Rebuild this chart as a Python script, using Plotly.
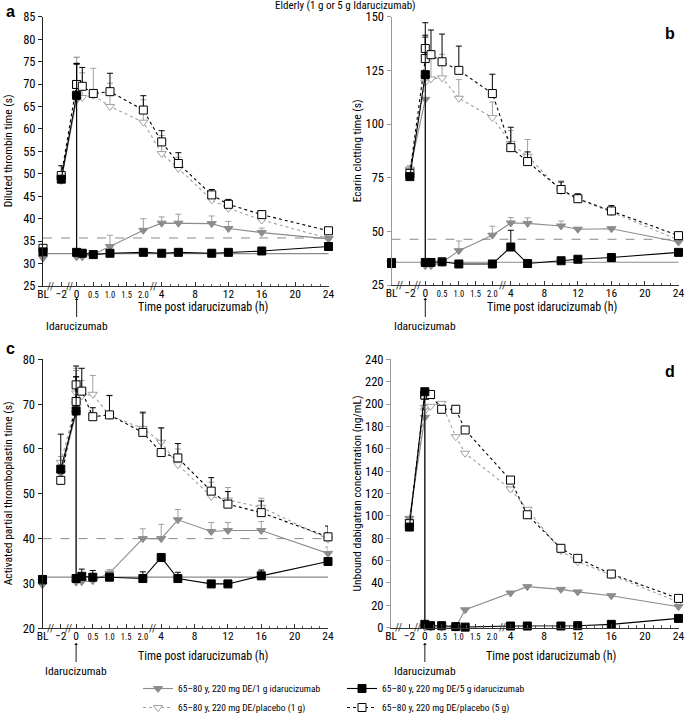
import plotly.graph_objects as go

FONT = "Roboto Condensed, Roboto, Arial, sans-serif"
GRAY = "#8c8c8c"
LGRAY = "#a0a0a0"

# ---------------- data ----------------
TIMES_ABC = ["BL", -2, 0, 0, 0.17, 0.5, 1.0, 2.0, 4, 6, 10, 12, 16, 24]
TIMES_D = [-2, 0, 0, 0.17, 0.5, 0.92, 1.2, 4, 6, 10, 12, 16, 24]

TICK_TIMES = ["BL", -2, 0, 0.5, 1.0, 1.5, 2.0, 4, 8, 12, 16, 20, 24]
TICK_LABELS = ["BL", "\u22122", "0", "0.5", "1.0", "1.5", "2.0", "4", "8", "12", "16", "20", "24"]
SMALL_LABELS = ["0.5", "1.0", "1.5", "2.0"]
MINOR_TIMES = [0.25, 0.75, 1.25, 1.75, 5, 6, 7, 9, 10, 11, 13, 14, 15, 17, 18, 19, 21, 22, 23]
BREAK_TIMES = ["BL-2", "-2-0", "2-4"]

SERIES_NAMES = [
    "65\u201380 y, 220 mg DE/1 g idarucizumab",
    "65\u201380 y, 220 mg DE/5 g idarucizumab",
    "65\u201380 y, 220 mg DE/placebo (1 g)",
    "65\u201380 y, 220 mg DE/placebo (5 g)",
]

# Panel a: diluted thrombin time (s)
A_1G = [31.2, 48.5, 66.5, 31.5, 31.5, 32.0, 33.8, 37.4, 39.0, 39.0, 38.9, 37.8, 36.9, 35.5]
A_1G_SD = [0, 1.0, 0, 0.4, 0.4, 0.8, 2.5, 2.6, 1.4, 2.0, 1.7, 1.6, 1.0, 0.5]
A_5G = [32.6, 48.8, 67.5, 32.5, 32.3, 32.0, 32.3, 32.5, 32.3, 32.5, 32.3, 32.5, 32.8, 33.8]
A_5G_SD = [0, 0, 6.9, 0, 0, 0, 0, 0, 0, 0, 0, 0, 0, 0]
A_PL1 = [31.5, 49.0, 67.0, 67.5, 67.0, 67.5, 65.0, 61.5, 54.5, 51.2, 44.2, 42.3, 39.7, 35.6]
A_PL1_SD = [0, 1.5, 8.9, 8.5, 5.5, 6.0, 5.2, 5.0, 4.0, 2.5, 1.4, 1.3, 1.0, 0.5]
A_PL5 = [33.4, 49.6, 69.9, 69.9, 69.5, 67.9, 68.3, 64.2, 57.1, 52.3, 45.3, 43.2, 40.9, 37.3]
A_PL5_SD = [0, 2.2, 4.7, 4.7, 4.2, 0, 4.1, 3.2, 2.5, 2.4, 1.2, 1.1, 0.8, 0.4]
A_REF_SOLID = 32.2
A_REF_DASH = 35.7

# Panel b: ecarin clotting time (s)
B_1G = [35.0, 78.5, 111.5, 34.0, 34.0, 35.5, 41.0, 48.2, 53.9, 53.7, 52.5, 51.0, 51.2, 45.0]
B_1G_SD = [0, 2.0, 0, 0, 0, 0, 4.5, 4.2, 2.5, 2.6, 2.3, 0.8, 0.8, 0.5]
B_5G = [35.0, 75.5, 123.0, 35.5, 35.5, 35.8, 34.8, 34.8, 42.7, 35.0, 36.3, 37.0, 37.8, 40.2]
B_5G_SD = [0, 0, 18.4, 0, 0, 0, 0, 0, 7.8, 0, 0, 0, 0, 0]
B_PL1 = [35.5, 79.0, 119.5, 121.5, 121.0, 121.5, 112.0, 103.0, 91.0, 85.0, 69.0, 65.0, 59.0, 46.0]
B_PL1_SD = [0, 1.5, 10.0, 10.0, 12.0, 11.0, 8.7, 7.3, 6.0, 7.8, 4.5, 2.2, 2.0, 1.0]
B_PL5 = [35.5, 77.0, 130.5, 135.2, 132.3, 129.0, 125.0, 114.2, 89.0, 82.5, 69.5, 65.2, 59.5, 48.0]
B_PL5_SD = [0, 0, 10.0, 12.0, 11.5, 12.9, 11.3, 9.0, 9.5, 4.5, 3.5, 2.3, 2.5, 0.8]
B_REF_SOLID = 35.6
B_REF_DASH = 46.3

# Panel c: activated partial thromboplastin time (s)
C_1G = [29.7, 54.6, 68.0, 30.3, 30.4, 30.6, 32.3, 40.0, 40.0, 44.2, 41.6, 41.8, 41.8, 36.7]
C_1G_SD = [0, 0, 0, 0, 0, 0, 0.8, 2.2, 3.2, 2.3, 2.0, 1.8, 2.0, 1.4]
C_5G = [30.9, 55.5, 68.5, 31.1, 31.6, 31.4, 31.4, 31.1, 35.8, 31.1, 29.9, 29.9, 31.7, 34.9]
C_5G_SD = [0, 7.8, 7.6, 0, 1.6, 1.5, 0, 1.5, 0, 1.4, 0, 0, 1.3, 0]
C_PL1 = [30.5, 57.0, 70.0, 72.5, 71.8, 72.2, 67.4, 64.6, 61.5, 56.5, 49.4, 48.6, 47.0, 39.9]
C_PL1_SD = [0, 1.3, 8.0, 5.0, 3.5, 4.2, 4.6, 3.3, 3.2, 3.5, 3.2, 2.8, 2.0, 1.5]
C_PL5 = [30.8, 53.0, 70.6, 74.3, 72.9, 67.2, 67.6, 63.7, 59.2, 58.0, 50.6, 47.7, 45.8, 40.4]
C_PL5_SD = [0, 0, 5.5, 4.2, 5.1, 2.0, 4.3, 4.5, 5.5, 3.2, 3.0, 2.8, 2.6, 2.4]
C_REF_SOLID = 31.4
C_REF_DASH = 40.0

# Panel d: unbound dabigatran concentration (ng/mL)
D_1G = [97.8, 188.0, 0.5, 0.5, 0.5, 0.5, 16.0, 31.0, 36.7, 34.3, 32.0, 28.6, 18.8]
D_5G = [90.0, 211.0, 3.0, 1.8, 1.8, 1.0, 0.5, 1.5, 1.5, 1.5, 1.8, 3.0, 8.3]
D_PL1 = [95.0, 194.0, 197.0, 198.0, 200.6, 170.8, 156.0, 124.0, 106.0, 69.0, 59.0, 47.0, 23.0]
D_PL5 = [93.0, 208.0, 208.0, 208.5, 195.3, 195.3, 176.8, 132.0, 101.0, 71.0, 62.0, 48.0, 26.2]


# ---------------- broken time axis mapping ----------------
def xu(t):
    if t == "BL":
        return -10.23
    if t == "BL-2":
        return -9.3
    if t == "-2-0":
        return -7.1
    if t == "2-4":
        return 3.0
    if t < 0:
        return -6.2 + 0.92 * t
    if t <= 2:
        return -6.2 + 4.0 * t
    return float(t)


X_RANGE = [xu("BL"), 24]
W, H = 685, 727

STYLES = [
    dict(symbol="triangle-down", mcolor=GRAY, mline=GRAY, lcolor=GRAY, dash="solid", ecolor=LGRAY),
    dict(symbol="square", mcolor="black", mline="black", lcolor="black", dash="solid", ecolor="black"),
    dict(symbol="triangle-down", mcolor="white", mline=LGRAY, lcolor=LGRAY, dash="dot", ecolor=LGRAY),
    dict(symbol="square", mcolor="white", mline="black", lcolor="black", dash="dot", ecolor="black"),
]
DRAW_ORDER = [2, 0, 3, 1]
LEGEND_OF = ["legend", "legend2", "legend", "legend2"]


def py(px):
    return 1 - px / H


PANELS = [
    dict(letter="a", xa="x", ya="y", xdom=[43 / W, 328.5 / W], ydom=[py(286), py(16.7)],
         yrange=[25, 85], dtick=5, times=TIMES_ABC,
         data=[(A_1G, A_1G_SD), (A_5G, A_5G_SD), (A_PL1, A_PL1_SD), (A_PL5, A_PL5_SD)],
         ref=(A_REF_SOLID, A_REF_DASH), ytitle="Diluted thrombin time (s)", ycol="#222"),
    dict(letter="b", xa="x2", ya="y2", xdom=[391.5 / W, 678.5 / W], ydom=[py(285), py(16.7)],
         yrange=[25, 150], dtick=25, times=TIMES_ABC,
         data=[(B_1G, B_1G_SD), (B_5G, B_5G_SD), (B_PL1, B_PL1_SD), (B_PL5, B_PL5_SD)],
         ref=(B_REF_SOLID, B_REF_DASH), ytitle="Ecarin clotting time (s)", ycol="#999"),
    dict(letter="c", xa="x3", ya="y3", xdom=[42.5 / W, 328 / W], ydom=[py(628.3), py(359.3)],
         yrange=[20, 80], dtick=10, times=TIMES_ABC,
         data=[(C_1G, C_1G_SD), (C_5G, C_5G_SD), (C_PL1, C_PL1_SD), (C_PL5, C_PL5_SD)],
         ref=(C_REF_SOLID, C_REF_DASH), ytitle="Activated partial thromboplastin time (s)", ycol="#222"),
    dict(letter="d", xa="x4", ya="y4", xdom=[391 / W, 678.5 / W], ydom=[py(627.7), py(359.3)],
         yrange=[0, 240], dtick=20, times=TIMES_D,
         data=[(D_1G, None), (D_5G, None), (D_PL1, None), (D_PL5, None)],
         ref=None, ytitle="Unbound dabigatran concentration (ng/mL)", ycol="#999"),
]

fig = go.Figure()

for pi, p in enumerate(PANELS):
    for si in DRAW_ORDER:
        vals, sd = p["data"][si]
        st = STYLES[si]
        xs, ys, es = [], [], []
        for i, t in enumerate(p["times"]):
            xs.append(xu(t))
            ys.append(vals[i])
            es.append(sd[i] if sd else 0)
            if t == "BL":
                xs.append(None)
                ys.append(None)
                es.append(0)
        tr = dict(
            x=xs, y=ys, mode="lines+markers", name=SERIES_NAMES[si],
            xaxis=p["xa"], yaxis=p["ya"], cliponaxis=False,
            line=dict(color=st["lcolor"], width=1.1, dash=st["dash"]),
            marker=dict(symbol=st["symbol"], size=8, color=st["mcolor"],
                        line=dict(color=st["mline"], width=1)),
            showlegend=(pi == 0), legend=LEGEND_OF[si], legendrank=si + 1,
            hoverinfo="skip",
        )
        if sd:
            tr["error_y"] = dict(type="data", symmetric=False, array=es,
                                 arrayminus=[0] * len(es), color=st["ecolor"],
                                 thickness=1, width=3)
        fig.add_trace(go.Scatter(**tr))

leg_common = dict(orientation="v", xanchor="left", yanchor="top",
                  font=dict(size=9.5, family=FONT), itemwidth=30,
                  bgcolor="rgba(0,0,0,0)", traceorder="normal", tracegroupgap=0,
                  borderwidth=0)
layout = dict(
    width=W, height=H, margin=dict(l=0, r=0, t=0, b=0, autoexpand=False),
    paper_bgcolor="white", plot_bgcolor="white",
    font=dict(family=FONT, size=12, color="black"),
    showlegend=True,
    legend=dict(x=138 / W, y=py(674), **leg_common),
    legend2=dict(x=342 / W, y=py(674), **leg_common),
)

ticktext = [("<span style='font-size:8.5px'>%s</span>" % t) if t in SMALL_LABELS else t
            for t in TICK_LABELS]
annotations = []
shapes = []

for p in PANELS:
    xk = "xaxis" if p["xa"] == "x" else "xaxis" + p["xa"][1:]
    yk = "yaxis" if p["ya"] == "y" else "yaxis" + p["ya"][1:]
    layout[xk] = dict(
        domain=p["xdom"], anchor=p["ya"], range=X_RANGE, automargin=False,
        tickmode="array", tickvals=[xu(t) for t in TICK_TIMES], ticktext=ticktext,
        ticks="inside", ticklen=4, tickcolor="#333", showline=True, linecolor="#333",
        linewidth=1, showgrid=False, zeroline=False, tickfont=dict(size=11.5),
        ticklabelstandoff=-3,
        minor=dict(tickmode="array", tickvals=[xu(t) for t in MINOR_TIMES],
                   ticks="inside", ticklen=2.5, tickcolor="#555"),
    )
    layout[yk] = dict(
        domain=p["ydom"], anchor=p["xa"], range=p["yrange"], dtick=p["dtick"],
        tick0=p["yrange"][0], ticks="outside", ticklen=4, tickcolor=p["ycol"],
        showline=True, linecolor=p["ycol"], linewidth=1, showgrid=False,
        zeroline=False, tickfont=dict(size=12.5), automargin=False,
    )
    # axis break marks
    for b in BREAK_TIMES:
        annotations.append(dict(x=xu(b), y=0, xref=p["xa"], yref=p["ya"] + " domain",
                                text="//", showarrow=False,
                                font=dict(size=11, color="#333"), xanchor="center",
                                yanchor="middle"))
    if p["ref"]:
        solid, dashed = p["ref"]
        shapes.append(dict(type="line", xref=p["xa"] + " domain", yref=p["ya"],
                           x0=0, x1=1, y0=solid, y1=solid,
                           line=dict(color="#8a8a8a", width=1.2), layer="below"))
        shapes.append(dict(type="line", xref=p["xa"] + " domain", yref=p["ya"],
                           x0=0, x1=1, y0=dashed, y1=dashed,
                           line=dict(color="#8a8a8a", width=1, dash="dash"), layer="below"))
    # y-axis title
    left = p["xdom"][0] * W
    annotations.append(dict(x=(left - 35) / W, y=sum(p["ydom"]) / 2, xref="paper",
                            yref="paper", text=p["ytitle"], textangle=-90,
                            showarrow=False, font=dict(size=11.5), xanchor="center",
                            yanchor="middle"))
    # x-axis title
    top_row = p["letter"] in ("a", "b")
    annotations.append(dict(x=(left + 160) / W, y=py(306.5 if top_row else 655.5),
                            xref="paper", yref="paper",
                            text="Time post idarucizumab (h)", showarrow=False,
                            font=dict(size=12), xanchor="center", yanchor="middle"))
    # idarucizumab arrow
    annotations.append(dict(x=xu(0), y=py(298 if top_row else 643), xref=p["xa"],
                            yref="paper", text="Idarucizumab", showarrow=True,
                            ax=0, ay=19, arrowhead=1, arrowsize=0.7, arrowwidth=0.9,
                            arrowcolor="black", font=dict(size=11.5), yanchor="top"))

# panel letters
for txt, lx, ly in [("a", 10, 11), ("b", 670, 33), ("c", 10, 349), ("d", 670, 371)]:
    annotations.append(dict(x=lx / W, y=py(ly), xref="paper", yref="paper",
                            text="<b>%s</b>" % txt, showarrow=False,
                            font=dict(size=16, family="Liberation Sans, Arial, sans-serif"),
                            xanchor="center", yanchor="middle"))

annotations.append(dict(x=345 / W, y=py(6), xref="paper", yref="paper",
                        text="Elderly (1 g or 5 g Idarucizumab)", showarrow=False,
                        font=dict(size=11), xanchor="center", yanchor="middle"))

layout["annotations"] = annotations
layout["shapes"] = shapes
fig.update_layout(**layout)

fig.write_html("out.html", config={"displayModeBar": False},
               post_script="document.body.style.margin='0px';")
